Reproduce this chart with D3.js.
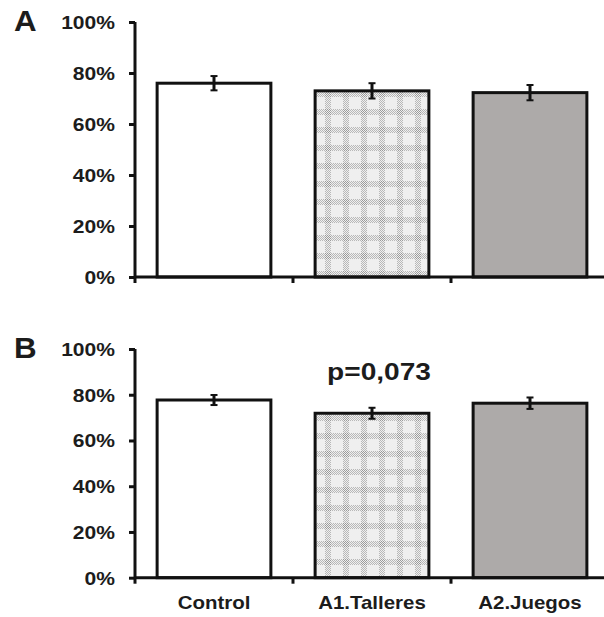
<!DOCTYPE html>
<html>
<head>
<meta charset="utf-8">
<script src="https://cdn.jsdelivr.net/npm/d3@7"></script>
<style>
  html, body { margin: 0; padding: 0; background: #fff; }
  svg { display: block; }
  text { font-family: "Liberation Sans", Arial, Helvetica, sans-serif; font-weight: bold; fill: #1c1c1c; }
</style>
</head>
<body>
<svg id="chart" width="604" height="617"></svg>
<script>
// Groups shown on the x axis
const categories = ["Control", "A1.Talleres", "A2.Juegos"];
// Panel A: mean proportion and error (±)
const valuesA = [0.76, 0.73, 0.723];
const errorsA = [0.028, 0.030, 0.030];
// Panel B: mean proportion and error (±)
const valuesB = [0.777, 0.719, 0.763];
const errorsB = [0.022, 0.024, 0.025];
// Y tick values
const yTicks = [0, 0.2, 0.4, 0.6, 0.8, 1.0];
const panelLabels = ["A", "B"];
const annotationB = "p=0,073";

const svg = d3.select("#chart");
const defs = svg.append("defs");

// Light plaid pattern of dotted grey bands for the second group
const pat = defs.append("pattern")
  .attr("id", "plaid")
  .attr("patternUnits", "userSpaceOnUse")
  .attr("width", 18).attr("height", 18);
pat.append("rect").attr("width", 18).attr("height", 18).attr("fill", "#efefef");
for (let y = 0; y < 18; y++) {
  for (let x = (y % 2); x < 18; x += 2) {
    const inV = x >= 1 && x < 7;
    const inH = y >= 1 && y < 7;
    if (inV || inH) {
      pat.append("rect").attr("x", x).attr("y", y).attr("width", 1).attr("height", 1)
        .attr("fill", inV && inH ? "#9a9a9a" : "#b8b8b8");
    }
  }
}

const fills = ["#ffffff", "url(#plaid)", "#adaaa9"];

const x = d3.scaleBand()
  .domain(categories)
  .range([135, 609])
  .paddingInner(0.28)
  .paddingOuter(0.14);

const stretch = 1.17;
const pct = d3.format(".0%");

function drawPanel(values, errors, yTop, yBottom, label, note) {
  const y = d3.scaleLinear().domain([0, 1]).range([yBottom, yTop]);
  const g = svg.append("g");

  // Bars
  g.selectAll("rect.bar")
    .data(categories)
    .join("rect")
    .attr("class", "bar")
    .attr("x", d => x(d))
    .attr("width", x.bandwidth())
    .attr("y", (d, i) => y(values[i]))
    .attr("height", (d, i) => y(0) - y(values[i]))
    .attr("fill", (d, i) => fills[i])
    .attr("stroke", "#111")
    .attr("stroke-width", 3);

  // Error bars
  const eb = g.selectAll("g.err")
    .data(categories)
    .join("g")
    .attr("class", "err");
  eb.append("line")
    .attr("x1", d => x(d) + x.bandwidth() / 2)
    .attr("x2", d => x(d) + x.bandwidth() / 2)
    .attr("y1", (d, i) => y(values[i] + errors[i]))
    .attr("y2", (d, i) => y(values[i] - errors[i]))
    .attr("stroke", "#111").attr("stroke-width", 3);
  [1, -1].forEach(s => {
    eb.append("line")
      .attr("x1", d => x(d) + x.bandwidth() / 2 - 3.5)
      .attr("x2", d => x(d) + x.bandwidth() / 2 + 3.5)
      .attr("y1", (d, i) => y(values[i] + s * errors[i]))
      .attr("y2", (d, i) => y(values[i] + s * errors[i]))
      .attr("stroke", "#111").attr("stroke-width", 2);
  });

  // Y axis
  const yAxis = g.append("g")
    .attr("transform", "translate(135,0)")
    .call(d3.axisLeft(y).tickValues(yTicks).tickFormat(pct).tickSize(6).tickPadding(0));
  yAxis.select(".domain").attr("stroke", "#111").attr("stroke-width", 3)
    .attr("d", `M0,${yTop}V${yBottom}`);
  yAxis.selectAll(".tick line").attr("stroke", "#111").attr("stroke-width", 3);
  yAxis.selectAll(".tick text")
    .attr("x", null).attr("dy", null)
    .attr("text-anchor", "end")
    .style("font-size", "18px")
    .attr("transform", `translate(-20,6.5) scale(${stretch},1)`);

  // X axis line with downward ticks at group boundaries
  g.append("line")
    .attr("x1", 135).attr("x2", 609)
    .attr("y1", y(0)).attr("y2", y(0))
    .attr("stroke", "#111").attr("stroke-width", 3);
  g.selectAll("line.xt")
    .data(d3.range(categories.length + 1))
    .join("line")
    .attr("class", "xt")
    .attr("x1", i => 135 + i * x.step())
    .attr("x2", i => 135 + i * x.step())
    .attr("y1", y(0)).attr("y2", y(0) + 6)
    .attr("stroke", "#111").attr("stroke-width", 3);

  // Panel letter
  g.append("text")
    .attr("transform", `translate(14,${yTop + 9}) scale(1.08,1)`)
    .style("font-size", "29px")
    .text(label);

  if (note) {
    g.append("text")
      .attr("transform", `translate(${x(categories[1]) + x.bandwidth() / 2 + 7},380) scale(${stretch},1)`)
      .attr("text-anchor", "middle")
      .style("font-size", "24px")
      .text(note);
  }
  return y;
}

drawPanel(valuesA, errorsA, 22, 277, panelLabels[0], null);
drawPanel(valuesB, errorsB, 349, 577.7, panelLabels[1], annotationB);

// Category labels under the lower panel
svg.append("g").selectAll("text")
  .data(categories)
  .join("text")
  .attr("transform", d => `translate(${x(d) + x.bandwidth() / 2},609) scale(${stretch},1)`)
  .attr("text-anchor", "middle")
  .style("font-size", "17.5px")
  .text(d => d);
</script>
</body>
</html>
